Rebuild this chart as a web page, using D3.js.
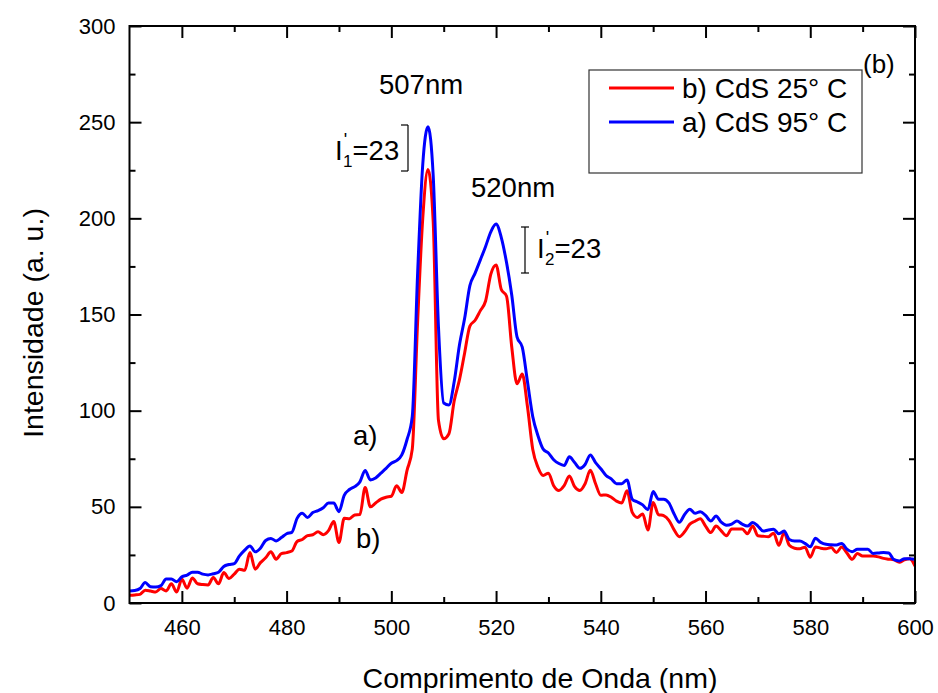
<!DOCTYPE html>
<html>
<head>
<meta charset="utf-8">
<script src="https://cdn.jsdelivr.net/npm/d3@7"></script>
<style>
  body { margin: 0; background: #fff; }
  svg { font-family: 'Liberation Sans', Arial, sans-serif; }
</style>
</head>
<body>
<svg id="chart" width="938" height="693"></svg>
<script>
// wavelengths sampled every 1 nm, 450..600
const wavelengths = d3.range(450, 601, 1);

// a) CdS 95° C
const cds95 = [
  6.3, 6.5, 7.5, 10.6, 8.5, 8.3, 9, 12.5, 12.5, 11,
  13.6, 14.5, 16, 16, 15, 14.6, 15.2, 16, 19, 20,
  20.5, 24.5, 27.5, 29.7, 26.6, 28.5, 32.5, 33.6, 32.3, 34,
  36, 36.7, 44, 46.6, 44.5, 47, 48, 49.5, 52, 52,
  47.5, 56, 59, 60.5, 63, 68.9, 64, 65, 67.5, 70,
  72.7, 74, 77, 85, 97, 170, 228, 247.6, 222, 143.6,
  104, 103, 115, 134, 148, 165, 171.5, 178.4, 185.4, 193,
  197, 190, 177, 160, 138.4, 133, 115, 97, 87, 80,
  78, 74.5, 72.5, 71.5, 76, 73, 70, 72, 77, 73,
  69.8, 66.3, 64.5, 62, 62, 64, 54, 52.5, 51, 48.5,
  58, 54, 54, 52, 46.3, 42, 46, 48.7, 46.6, 47.5,
  45.5, 42.6, 45.2, 42, 40.4, 41, 42.6, 41, 40, 41.8,
  40, 37.4, 38, 38.3, 36, 37.4, 33, 32.2, 32.2, 31,
  29.2, 33.7, 31.5, 30.5, 30.3, 30.2, 31, 28, 26.7, 27.9,
  27.9, 27.9, 25.8, 26, 26.3, 26, 22.5, 21.9, 23, 23,
  22.7
];

// b) CdS 25° C
const cds25 = [
  4, 4.2, 4.5, 6.6, 6.2, 5.7, 7.5, 6.3, 10, 5.7,
  12.3, 7.7, 13, 10, 9.6, 9.4, 13.2, 10, 15.8, 12.7,
  15, 17.6, 17, 26.2, 17.6, 21, 23.5, 26.6, 22.8, 25.7,
  26.2, 27, 32, 33, 35, 35.5, 37, 35.5, 37.6, 42.4,
  31.5, 44, 43.8, 45.8, 46, 60, 50, 52, 54, 55,
  55.5, 61, 57.5, 69, 80, 145, 200, 225.4, 198, 95,
  85.4, 88, 105, 116, 130, 144, 147, 152, 157, 171,
  175.8, 163, 159.5, 133, 114, 119, 102, 80, 70.6, 66.3,
  67.5, 61, 58.5, 61, 66, 60.5, 58.5, 62, 69, 62,
  56, 56.2, 55, 53, 52, 58.4, 47.1, 44.5, 46.3, 37.9,
  52.3, 46, 45.4, 43, 38, 34.5, 37, 41, 42.5, 43.8,
  40, 36.6, 40, 37.5, 35, 38.5, 38.5, 38.5, 36, 40,
  35, 34.7, 34.5, 36.3, 30, 36.5, 30, 28.5, 28.2, 29,
  23.8, 29.1, 28.5, 28.2, 28.8, 26.3, 29.1, 26, 22.7, 25.8,
  24.4, 24.4, 24.4, 24, 23.2, 22.8, 22.4, 21.2, 22.5, 23,
  19.2
];

const xMajorTicks = [460, 480, 500, 520, 540, 560, 580, 600];
const xMinorTicks = [470, 490, 510, 530, 550, 570, 590];
const yMajorTicks = [0, 50, 100, 150, 200, 250, 300];
const yMinorTicks = [25, 75, 125, 175, 225, 275];

const series = [
  { key: 'b', label: 'b) CdS 25° C', values: cds25, color: '#ff0000' },
  { key: 'a', label: 'a) CdS 95° C', values: cds95, color: '#0000ff' }
];

const svg = d3.select('#chart');
const plotLeft = 129.5, plotRight = 915, plotTop = 26, plotBottom = 603;

const x = d3.scaleLinear().domain([450, 600]).range([plotLeft, plotRight]);
const y = d3.scaleLinear().domain([0, 300]).range([plotBottom, plotTop]);

const styleAxis = (g) => {
  g.select('.domain').remove();
  g.selectAll('line').attr('stroke', '#000').attr('stroke-width', 2);
  g.selectAll('text').attr('font-size', 22).attr('fill', '#000');
};

// bottom
svg.append('g').attr('transform', `translate(0,${plotBottom})`)
  .call(d3.axisBottom(x).tickValues(xMajorTicks).tickSizeInner(-12).tickSizeOuter(0).tickPadding(16).tickFormat(d3.format('d')))
  .call(styleAxis);
svg.append('g').attr('transform', `translate(0,${plotBottom})`)
  .call(d3.axisBottom(x).tickValues(xMinorTicks).tickSizeInner(-6).tickSizeOuter(0).tickFormat(''))
  .call(styleAxis);
// top
svg.append('g').attr('transform', `translate(0,${plotTop})`)
  .call(d3.axisTop(x).tickValues(xMajorTicks).tickSizeInner(-12).tickSizeOuter(0).tickFormat(''))
  .call(styleAxis);
svg.append('g').attr('transform', `translate(0,${plotTop})`)
  .call(d3.axisTop(x).tickValues(xMinorTicks).tickSizeInner(-6).tickSizeOuter(0).tickFormat(''))
  .call(styleAxis);
// left
svg.append('g').attr('transform', `translate(${plotLeft},0)`)
  .call(d3.axisLeft(y).tickValues(yMajorTicks).tickSizeInner(-12).tickSizeOuter(0).tickPadding(14))
  .call(styleAxis);
svg.append('g').attr('transform', `translate(${plotLeft},0)`)
  .call(d3.axisLeft(y).tickValues(yMinorTicks).tickSizeInner(-6).tickSizeOuter(0).tickFormat(''))
  .call(styleAxis);
// right
svg.append('g').attr('transform', `translate(${plotRight},0)`)
  .call(d3.axisRight(y).tickValues(yMajorTicks).tickSizeInner(-12).tickSizeOuter(0).tickFormat(''))
  .call(styleAxis);
svg.append('g').attr('transform', `translate(${plotRight},0)`)
  .call(d3.axisRight(y).tickValues(yMinorTicks).tickSizeInner(-6).tickSizeOuter(0).tickFormat(''))
  .call(styleAxis);

// lines
svg.append('clipPath').attr('id', 'plot-clip')
  .append('rect').attr('x', plotLeft).attr('y', plotTop)
  .attr('width', plotRight - plotLeft).attr('height', plotBottom - plotTop);

const line = (vals) => d3.line()
  .x((d, i) => x(wavelengths[i]))
  .y(d => y(d))
  .curve(d3.curveMonotoneX)(vals);

const lines = svg.append('g').attr('clip-path', 'url(#plot-clip)');
series.forEach(s => {
  lines.append('path')
    .attr('d', line(s.values))
    .attr('fill', 'none')
    .attr('stroke', s.color)
    .attr('stroke-width', 3)
    .attr('stroke-linejoin', 'round');
});

// frame
svg.append('rect')
  .attr('x', plotLeft).attr('y', plotTop)
  .attr('width', plotRight - plotLeft).attr('height', plotBottom - plotTop)
  .attr('fill', 'none').attr('stroke', '#000').attr('stroke-width', 2);

// axis titles
svg.append('text')
  .attr('x', 540).attr('y', 688)
  .attr('text-anchor', 'middle').attr('font-size', 28.5)
  .text('Comprimento de Onda (nm)');
svg.append('text')
  .attr('transform', 'translate(43,323) rotate(-90)')
  .attr('text-anchor', 'middle').attr('font-size', 28.5)
  .text('Intensidade (a. u.)');

// legend
const legend = svg.append('g');
legend.append('rect')
  .attr('x', 589).attr('y', 70).attr('width', 273).attr('height', 103)
  .attr('fill', '#fff').attr('stroke', '#333').attr('stroke-width', 1.2);
series.forEach((s, i) => {
  const ly = 88 + i * 34;
  legend.append('line')
    .attr('x1', 609).attr('x2', 674).attr('y1', ly).attr('y2', ly)
    .attr('stroke', s.color).attr('stroke-width', 3);
  legend.append('text')
    .attr('x', 682).attr('y', ly + 10).attr('font-size', 28)
    .text(s.label);
});

svg.append('text').attr('x', 863).attr('y', 73).attr('font-size', 26).text('(b)');

// annotations
const ann = svg.append('g').attr('font-size', 27.5);
ann.append('text').attr('x', 379).attr('y', 94).text('507nm');
ann.append('text').attr('x', 471).attr('y', 197).text('520nm');
ann.append('text').attr('x', 353).attr('y', 445).text('a)');
ann.append('text').attr('x', 356).attr('y', 548).text('b)');

const intensityLabel = (lx, ly, sub) => {
  const t = ann.append('text').attr('x', lx).attr('y', ly);
  t.append('tspan').text('I');
  t.append('tspan').attr('font-size', 18).attr('dx', 1).attr('dy', -14).text("'");
  t.append('tspan').attr('font-size', 17).attr('dx', -4).attr('dy', 21).text(sub);
  t.append('tspan').attr('dy', -7).text('=23');
};
intensityLabel(335, 160, '1');
intensityLabel(537, 258, '2');

// error-bar style brackets spanning 23 units
const bracket = (bx, yTop, yBot, x1, x2) => {
  const g = svg.append('g').attr('stroke', '#000').attr('stroke-width', 1.2);
  g.append('line').attr('x1', bx).attr('x2', bx).attr('y1', yTop).attr('y2', yBot);
  g.append('line').attr('x1', x1).attr('x2', x2).attr('y1', yTop).attr('y2', yTop);
  g.append('line').attr('x1', x1).attr('x2', x2).attr('y1', yBot).attr('y2', yBot);
};
bracket(408, 125, 171, 401, 408);
bracket(525, 227, 273, 521, 529);
</script>
</body>
</html>
